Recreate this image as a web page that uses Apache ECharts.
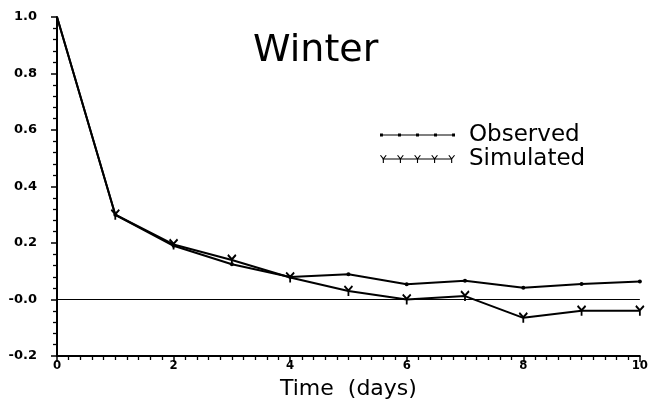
<!DOCTYPE html>
<html>
<head>
<meta charset="utf-8">
<script src="https://cdn.jsdelivr.net/npm/echarts@6/dist/echarts.min.js"></script>
<style>
  html, body { margin: 0; padding: 0; background: #fff; }
  #chart { width: 651px; height: 405px; }
</style>
</head>
<body>
<div id="chart"></div>
<script>
// Fraction remaining over time, winter run
const days = [0, 1, 2, 3, 4, 5, 6, 7, 8, 9, 10];
const observed = [1.0, 0.30, 0.19, 0.125, 0.08, 0.089, 0.054, 0.066, 0.042, 0.055, 0.064];
const simulated = [1.0, 0.30, 0.195, 0.14, 0.078, 0.03, 0.0, 0.012, -0.065, -0.04, -0.04];
const xTicks = [0, 2, 4, 6, 8, 10];
const yTicks = [-0.2, 0.0, 0.2, 0.4, 0.6, 0.8, 1.0];

const ySymbol = 'path://M-4,-4 L0,0 L4,-4 M0,0 L0,5';

// legend icons: a line with five markers along it (filled shapes)
function rect(x0, y0, x1, y1) {
  return ' M' + x0 + ',' + y0 + ' L' + x1 + ',' + y0 + ' L' + x1 + ',' + y1 + ' L' + x0 + ',' + y1 + ' Z';
}
function legendDots() {
  let p = rect(0, 4.4, 75, 5.6);
  for (let i = 0; i <= 4; i++) {
    const x = i * 18.5 + 0.5;
    p += rect(x - 1.5, 3.5, x + 1.5, 6.5);
  }
  return 'path://' + p;
}
function legendYs() {
  let p = rect(0, 4.4, 75, 5.6);
  for (let i = 0; i <= 4; i++) {
    const x = i * 18.5 + 1;
    p += ' M' + (x - 3.6) + ',1.2 L' + (x - 2.6) + ',0.6 L' + (x + 0.4) + ',4.6 L' + (x - 0.4) + ',5.4 Z';
    p += ' M' + (x + 2.6) + ',0.6 L' + (x + 3.6) + ',1.2 L' + (x + 0.4) + ',5.4 L' + (x - 0.4) + ',4.6 Z';
    p += rect(x - 0.6, 4.5, x + 0.6, 9.5);
  }
  return 'path://' + p;
}

const chart = echarts.init(document.getElementById('chart'), null, { renderer: 'canvas' });
chart.setOption({
  animation: false,
  backgroundColor: '#fff',
  title: {
    text: 'Winter',
    left: 248,
    top: 27,
    textStyle: { fontFamily: 'DejaVu Sans', fontWeight: 'normal', fontSize: 38, color: '#000' }
  },
  legend: {
    orient: 'vertical',
    left: 375,
    top: 118,
    itemWidth: 75,
    itemHeight: 10,
    itemGap: 0,
    textStyle: { fontFamily: 'DejaVu Sans', fontSize: 23, color: '#000', padding: [0, 0, 0, 9], lineHeight: 24 },
    data: [
      { name: 'Observed', icon: legendDots(), itemStyle: { color: '#000', borderWidth: 0 } },
      { name: 'Simulated', icon: legendYs(), itemStyle: { color: '#000', borderWidth: 0 } }
    ]
  },
  grid: { left: 57, right: 6, top: 17, bottom: 46 },
  xAxis: {
    type: 'value',
    min: 0,
    max: 10,
    interval: 2,
    name: 'Time  (days)',
    nameLocation: 'middle',
    nameGap: 22,
    nameTextStyle: { fontFamily: 'DejaVu Sans', fontSize: 22, color: '#000' },
    axisLine: { onZero: false, lineStyle: { color: '#000', width: 2 } },
    axisTick: { show: true, length: 6, lineStyle: { color: '#000', width: 1.5 } },
    minorTick: { show: true, splitNumber: 10, length: 4, lineStyle: { color: '#000', width: 1.3 } },
    splitLine: { show: false },
    axisLabel: {
      margin: 3,
      fontFamily: 'DejaVu Sans Condensed, DejaVu Sans',
      fontWeight: 'bold',
      fontSize: 13,
      color: '#000',
      formatter: v => xTicks.includes(v) ? String(v) : ''
    }
  },
  yAxis: {
    type: 'value',
    min: -0.2,
    max: 1.0,
    interval: 0.2,
    axisLine: { onZero: false, lineStyle: { color: '#000', width: 2 } },
    axisTick: { show: true, length: 6, lineStyle: { color: '#000', width: 1.5 } },
    minorTick: { show: true, splitNumber: 5, length: 4, lineStyle: { color: '#000', width: 1.3 } },
    splitLine: { show: false },
    axisLabel: {
      margin: 20,
      fontFamily: 'DejaVu Sans',
      fontWeight: 'bold',
      fontSize: 13,
      color: '#000',
      padding: [3, 0, 0, 0],
      formatter: v => {
        const t = yTicks.find(k => Math.abs(k - v) < 1e-9);
        if (t === undefined) return '';
        return t === 0 ? '-0.0' : t.toFixed(1);
      }
    }
  },
  series: [
    {
      name: 'Observed',
      type: 'line',
      data: days.map((d, i) => [d, observed[i]]),
      symbol: (v, p) => p.dataIndex === 0 ? 'none' : 'circle',
      symbolSize: 4,
      itemStyle: { color: '#000' },
      lineStyle: { color: '#000', width: 2 },
      z: 3,
      markLine: {
        silent: true,
        symbol: 'none',
        label: { show: false },
        lineStyle: { color: '#000', width: 1.2, type: 'solid' },
        data: [{ yAxis: 0 }]
      }
    },
    {
      name: 'Simulated',
      type: 'line',
      data: days.map((d, i) => [d, simulated[i]]),
      symbol: (v, p) => p.dataIndex === 0 ? 'none' : ySymbol,
      symbolSize: [8, 10],
      itemStyle: { color: 'none', borderColor: '#000', borderWidth: 2 },
      lineStyle: { color: '#000', width: 2 },
      z: 4
    }
  ]
});
</script>
</body>
</html>
